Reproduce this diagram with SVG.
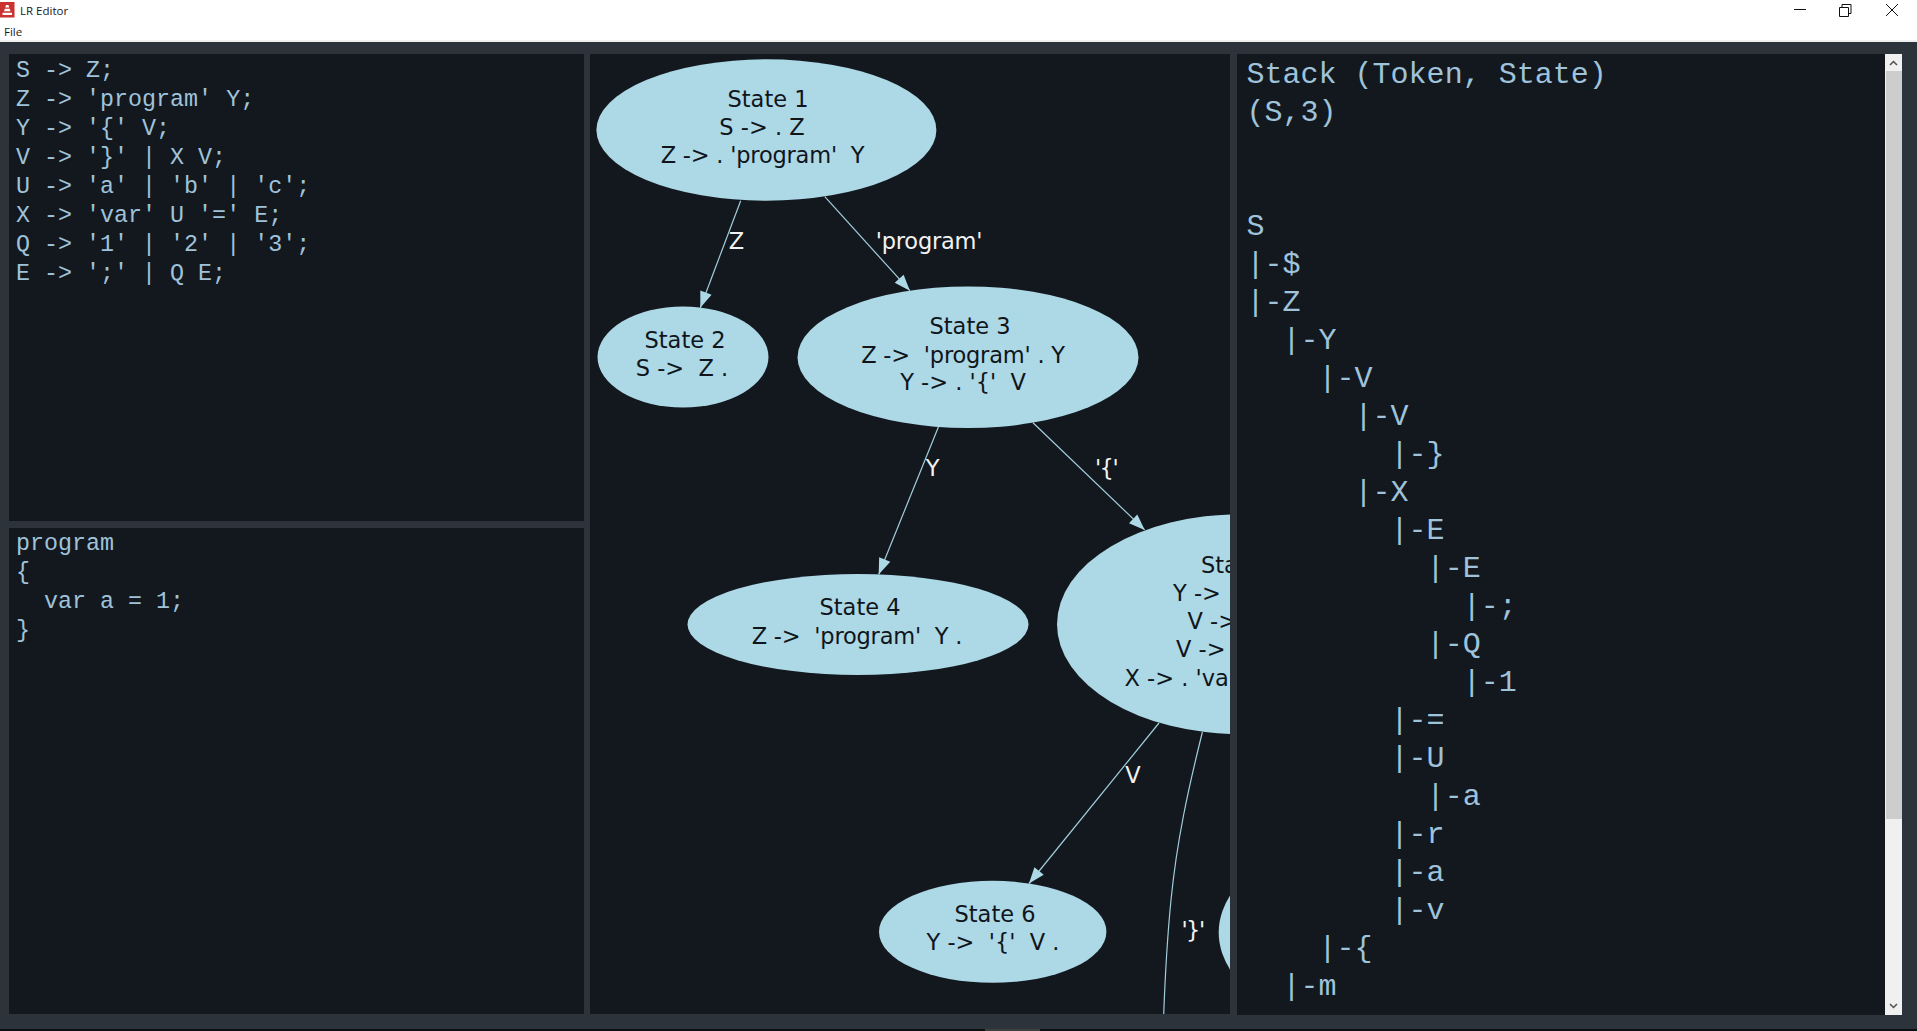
<svg xmlns="http://www.w3.org/2000/svg" width="1917" height="1031" viewBox="0 0 1917 1031">
<style>
.code{font-family:"Liberation Mono",monospace;font-size:23.35px;fill:#9fc3da;white-space:pre}
.big{font-family:"Liberation Mono",monospace;font-size:30px;fill:#9fc3da;white-space:pre}
.n{font-family:"DejaVu Sans",sans-serif;font-size:22.5px;fill:#10151b;text-anchor:middle;white-space:pre}
.s{text-anchor:start}
.q{letter-spacing:-.2px}
.l{font-family:"DejaVu Sans",sans-serif;font-size:22.5px;fill:#f2f2f2;text-anchor:middle}
.b{letter-spacing:-1.5px}
.ui{font-family:"Open Sans",sans-serif;font-size:11.5px;fill:#1a1a1a}
.node{fill:#add8e6}
.edge{fill:none;stroke:#a3cedc;stroke-width:1.2}
.panel{fill:#13181f}
</style>
<defs>
<marker id="a" markerUnits="userSpaceOnUse" markerWidth="18" markerHeight="14" refX="17" refY="7" orient="auto"><path d="M1 1L17 7L1 13Z" fill="#add8e6"/></marker>
<clipPath id="g"><rect x="590" y="54" width="640" height="960"/></clipPath>
</defs>
<rect width="1917" height="1031" fill="#2c333a"/>
<rect width="1917" height="40" fill="#fff"/>
<rect y="40" width="1917" height="2" fill="#f0f0f0"/>
<rect y="1029" width="1917" height="2" fill="#0b0e12"/>
<rect x="985" y="1029" width="55" height="2" fill="#3f3f3f"/>
<g id="titlebar">
<rect x="0" y="2" width="14.500" height="15.500" fill="#c9322e"/>
<path d="M6 5h2.500l.7 2.500h-3.900zM4.800 8.700h4.900l.8 2.500h-6.500zM2.500 12.800h9.500v2.300h-9.500z" fill="#fff"/>
<text class="ui" x="20" y="15">LR Editor</text>
<text class="ui" x="4" y="35.500">File</text>
<path d="M1794 9.500h12" stroke="#111" fill="none"/>
<path d="M1839.500 7.500h9v9h-9zM1842 7.500v-3h9v9h-2.500" stroke="#111" fill="none"/>
<path d="M1886 4l12 12M1898 4l-12 12" stroke="#111" fill="none"/>
</g>
<g id="grammar">
<rect class="panel" x="9" y="54" width="575" height="467"/>
<text class="code" x="16" y="77">S -&gt; Z;</text>
<text class="code" x="16" y="106">Z -&gt; 'program' Y;</text>
<text class="code" x="16" y="135">Y -&gt; '{' V;</text>
<text class="code" x="16" y="164">V -&gt; '}' | X V;</text>
<text class="code" x="16" y="193">U -&gt; 'a' | 'b' | 'c';</text>
<text class="code" x="16" y="222">X -&gt; 'var' U '=' E;</text>
<text class="code" x="16" y="251">Q -&gt; '1' | '2' | '3';</text>
<text class="code" x="16" y="280">E -&gt; ';' | Q E;</text>
</g>
<g id="source">
<rect class="panel" x="9" y="528" width="575" height="486"/>
<text class="code" x="16" y="549.500">program</text>
<text class="code" x="16" y="578.500">{</text>
<text class="code" x="16" y="607.500">  var a = 1;</text>
<text class="code" x="16" y="636.500">}</text>
</g>
<rect class="panel" x="590" y="54" width="640" height="960"/>
<g clip-path="url(#g)">
<g id="connectors">
<path class="edge" marker-end="url(#a)" d="M740.700 200.700L700.300 307.700"/>
<path class="edge" marker-end="url(#a)" d="M824.800 196.700L909.900 290.700"/>
<path class="edge" marker-end="url(#a)" d="M938.500 426.700L878.700 574.400"/>
<path class="edge" marker-end="url(#a)" d="M1033 422.700L1144.700 529.900"/>
<path class="edge" marker-end="url(#a)" d="M1159 723L1029 883.500"/>
<path class="edge" d="M1202.400 732C1188 790 1177 840 1171 900C1167 940 1165 980 1163.700 1014.500"/>
</g>
<g id="state1"><ellipse class="node" cx="766.400" cy="130" rx="170" ry="70.700"/>
<text class="n" x="768" y="106.500">State 1</text><text class="n" x="762" y="135">S -&gt; . Z</text><text class="n q" x="762.500" y="163">Z -&gt; . 'program'  Y</text></g>
<g id="state2"><ellipse class="node" cx="683" cy="357" rx="85.500" ry="50.500"/>
<text class="n" x="685" y="347.500">State 2</text><text class="n" x="682" y="376">S -&gt;  Z .</text></g>
<g id="state3"><ellipse class="node" cx="968" cy="357.200" rx="170.500" ry="70.800"/>
<text class="n" x="970" y="333.500">State 3</text><text class="n q" x="963" y="362.500">Z -&gt;  'program' . Y</text><text class="n" x="963" y="389.500">Y -&gt; . '{'  V</text></g>
<g id="state4"><ellipse class="node" cx="858" cy="624.500" rx="170.500" ry="50.400"/>
<text class="n" x="860" y="615">State 4</text><text class="n q" x="857" y="643.500">Z -&gt;  'program'  Y .</text></g>
<g id="state5"><ellipse class="node" cx="1241" cy="624.200" rx="184" ry="110"/>
<text class="n s" x="1201" y="572.500">Sta</text><text class="n s" x="1173" y="600.500">Y -&gt;</text><text class="n s" x="1187.500" y="629">V -&gt;</text><text class="n s" x="1176" y="657">V -&gt;</text><text class="n s" x="1124.500" y="685.500">X -&gt; . 'va</text></g>
<g id="state6"><ellipse class="node" cx="992.700" cy="931.800" rx="113.700" ry="51"/>
<text class="n" x="995" y="922">State 6</text><text class="n" x="993" y="950">Y -&gt;  '{'  V .</text></g>
<g id="state7"><ellipse class="node" cx="1413.700" cy="932.500" rx="195" ry="110"/></g>
<g id="edge-labels">
<text class="l" x="736.500" y="249">Z</text>
<text class="l q" x="929" y="249">'program'</text>
<text class="l" x="932.500" y="475.500">Y</text>
<text class="l b" x="1106" y="475.500">'{'</text>
<text class="l" x="1133" y="782.500">V</text>
<text class="l b" x="1192.500" y="938">'}'</text>
</g>
</g>
<g id="stack">
<rect class="panel" x="1237" y="54" width="648" height="961"/>
<text class="big" x="1246.600" y="83">Stack (Token, State)</text>
<text class="big" x="1246.600" y="121">(S,3)</text>
<text class="big" x="1246.600" y="235">S</text>
<text class="big" x="1246.600" y="273">|-$</text>
<text class="big" x="1246.600" y="311">|-Z</text>
<text class="big" x="1246.600" y="349">  |-Y</text>
<text class="big" x="1246.600" y="387">    |-V</text>
<text class="big" x="1246.600" y="425">      |-V</text>
<text class="big" x="1246.600" y="463">        |-}</text>
<text class="big" x="1246.600" y="501">      |-X</text>
<text class="big" x="1246.600" y="539">        |-E</text>
<text class="big" x="1246.600" y="577">          |-E</text>
<text class="big" x="1246.600" y="615">            |-;</text>
<text class="big" x="1246.600" y="653">          |-Q</text>
<text class="big" x="1246.600" y="691">            |-1</text>
<text class="big" x="1246.600" y="729">        |-=</text>
<text class="big" x="1246.600" y="767">        |-U</text>
<text class="big" x="1246.600" y="805">          |-a</text>
<text class="big" x="1246.600" y="843">        |-r</text>
<text class="big" x="1246.600" y="881">        |-a</text>
<text class="big" x="1246.600" y="919">        |-v</text>
<text class="big" x="1246.600" y="957">    |-{</text>
<text class="big" x="1246.600" y="995">  |-m</text>
</g>
<g id="scrollbar">
<rect x="1885" y="54" width="17" height="961" fill="#f0f0f0"/>
<rect x="1886" y="71" width="16" height="748" fill="#cdcdcd"/>
<path d="M1890 65l3.500-3.500l3.500 3.500" fill="none" stroke="#505050" stroke-width="1.500"/>
<path d="M1890 1004l3.500 3.500l3.500-3.500" fill="none" stroke="#505050" stroke-width="1.500"/>
</g>
</svg>
